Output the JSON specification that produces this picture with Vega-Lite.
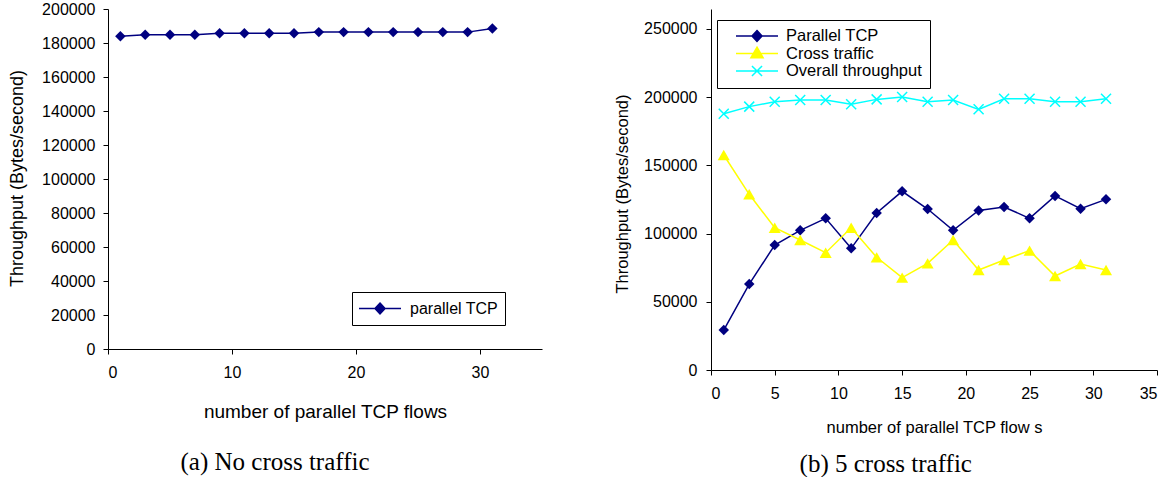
{
  "$schema": "https://vega.github.io/schema/vega-lite/v6.json",
  "padding": {"left": 8, "top": 1, "right": 0, "bottom": 0},
  "background": "white",
  "datasets": {
    "a": [
      {"n": 1, "throughput": 184000, "series": "parallel TCP"},
      {"n": 3, "throughput": 184800, "series": "parallel TCP"},
      {"n": 5, "throughput": 184800, "series": "parallel TCP"},
      {"n": 7, "throughput": 184800, "series": "parallel TCP"},
      {"n": 9, "throughput": 185700, "series": "parallel TCP"},
      {"n": 11, "throughput": 185700, "series": "parallel TCP"},
      {"n": 13, "throughput": 185700, "series": "parallel TCP"},
      {"n": 15, "throughput": 185700, "series": "parallel TCP"},
      {"n": 17, "throughput": 186400, "series": "parallel TCP"},
      {"n": 19, "throughput": 186400, "series": "parallel TCP"},
      {"n": 21, "throughput": 186400, "series": "parallel TCP"},
      {"n": 23, "throughput": 186400, "series": "parallel TCP"},
      {"n": 25, "throughput": 186400, "series": "parallel TCP"},
      {"n": 27, "throughput": 186400, "series": "parallel TCP"},
      {"n": 29, "throughput": 186400, "series": "parallel TCP"},
      {"n": 31, "throughput": 188500, "series": "parallel TCP"}
    ],
    "b": [
      {"n": 1, "throughput": 29300, "series": "Parallel TCP"},
      {"n": 3, "throughput": 63000, "series": "Parallel TCP"},
      {"n": 5, "throughput": 91600, "series": "Parallel TCP"},
      {"n": 7, "throughput": 102400, "series": "Parallel TCP"},
      {"n": 9, "throughput": 111200, "series": "Parallel TCP"},
      {"n": 11, "throughput": 89200, "series": "Parallel TCP"},
      {"n": 13, "throughput": 115100, "series": "Parallel TCP"},
      {"n": 15, "throughput": 131000, "series": "Parallel TCP"},
      {"n": 17, "throughput": 118000, "series": "Parallel TCP"},
      {"n": 19, "throughput": 102400, "series": "Parallel TCP"},
      {"n": 21, "throughput": 117000, "series": "Parallel TCP"},
      {"n": 23, "throughput": 119500, "series": "Parallel TCP"},
      {"n": 25, "throughput": 111200, "series": "Parallel TCP"},
      {"n": 27, "throughput": 127600, "series": "Parallel TCP"},
      {"n": 29, "throughput": 118300, "series": "Parallel TCP"},
      {"n": 31, "throughput": 125100, "series": "Parallel TCP"},
      {"n": 1, "throughput": 157600, "series": "Cross traffic"},
      {"n": 3, "throughput": 128800, "series": "Cross traffic"},
      {"n": 5, "throughput": 104300, "series": "Cross traffic"},
      {"n": 7, "throughput": 95300, "series": "Cross traffic"},
      {"n": 9, "throughput": 86000, "series": "Cross traffic"},
      {"n": 11, "throughput": 104300, "series": "Cross traffic"},
      {"n": 13, "throughput": 82600, "series": "Cross traffic"},
      {"n": 15, "throughput": 67700, "series": "Cross traffic"},
      {"n": 17, "throughput": 78200, "series": "Cross traffic"},
      {"n": 19, "throughput": 95300, "series": "Cross traffic"},
      {"n": 21, "throughput": 73300, "series": "Cross traffic"},
      {"n": 23, "throughput": 80600, "series": "Cross traffic"},
      {"n": 25, "throughput": 87500, "series": "Cross traffic"},
      {"n": 27, "throughput": 68900, "series": "Cross traffic"},
      {"n": 29, "throughput": 77700, "series": "Cross traffic"},
      {"n": 31, "throughput": 73300, "series": "Cross traffic"},
      {"n": 1, "throughput": 187900, "series": "Overall throughput"},
      {"n": 3, "throughput": 193100, "series": "Overall throughput"},
      {"n": 5, "throughput": 196700, "series": "Overall throughput"},
      {"n": 7, "throughput": 197900, "series": "Overall throughput"},
      {"n": 9, "throughput": 197900, "series": "Overall throughput"},
      {"n": 11, "throughput": 194800, "series": "Overall throughput"},
      {"n": 13, "throughput": 198400, "series": "Overall throughput"},
      {"n": 15, "throughput": 200100, "series": "Overall throughput"},
      {"n": 17, "throughput": 196700, "series": "Overall throughput"},
      {"n": 19, "throughput": 197900, "series": "Overall throughput"},
      {"n": 21, "throughput": 191100, "series": "Overall throughput"},
      {"n": 23, "throughput": 198900, "series": "Overall throughput"},
      {"n": 25, "throughput": 198900, "series": "Overall throughput"},
      {"n": 27, "throughput": 196700, "series": "Overall throughput"},
      {"n": 29, "throughput": 196700, "series": "Overall throughput"},
      {"n": 31, "throughput": 198900, "series": "Overall throughput"}
    ]
  },
  "spacing": 169,
  "bounds": "flush",
  "resolve": {
    "scale": {"color": "independent", "x": "independent", "y": "independent"},
    "legend": {"color": "independent"}
  },
  "hconcat": [
    {
      "width": 434,
      "height": 340,
      "data": {"name": "a"},
      "title": {"text": "(a) No cross traffic", "offset": 29},
      "encoding": {
        "x": {
          "field": "n", "type": "quantitative",
          "scale": {"domain": [0, 35], "nice": false, "zero": true},
          "axis": {
            "values": [0, 10, 20, 30], "labelPadding": 10,
            "title": "number of parallel TCP flows", "titleFontSize": 19,
            "titleY": 62, "titleBaseline": "middle"
          }
        },
        "y": {
          "field": "throughput", "type": "quantitative",
          "scale": {"domain": [0, 200000], "nice": false},
          "axis": {
            "values": [0, 20000, 40000, 60000, 80000, 100000, 120000, 140000, 160000, 180000, 200000],
            "format": "d", "labelPadding": 8,
            "title": "Throughput (Bytes/second)", "titleFontSize": 18,
            "titleX": -91, "titleY": 169, "titleBaseline": "middle", "titleAlign": "center"
          }
        }
      },
      "layer": [
        {
          "data": {"values": [{}]},
          "mark": {"type": "rule", "color": "#808080", "strokeWidth": 1},
          "encoding": {"x": {"datum": 0}, "x2": {"datum": 35}, "y": {"datum": 200000}}
        },
        {
          "data": {"values": [{}]},
          "mark": {"type": "rule", "color": "#808080", "strokeWidth": 1},
          "encoding": {"x": {"datum": 35}, "y": {"datum": 0}, "y2": {"datum": 200000}}
        },
        {
          "mark": {"type": "line", "strokeWidth": 1.5},
          "encoding": {
            "color": {
              "field": "series", "type": "nominal",
              "scale": {"domain": ["parallel TCP"], "range": ["#000080"]},
              "legend": {
                "orient": "none", "legendX": 244, "legendY": 283, "title": null,
                "strokeColor": "black", "fillColor": "white", "padding": 6,
                "symbolSize": 1764, "clipHeight": 21, "labelOffset": 8,
                "labelFontSize": 16, "labelFont": "Liberation Sans", "labelColor": "black",
                "encode": {
                  "symbols": {
                    "update": {
                      "shape": {"value": "M-1,0H1M0,-0.26L0.24,0L0,0.26L-0.24,0Z"},
                      "fill": {"value": "#000080"},
                      "stroke": {"value": "#000080"},
                      "strokeWidth": {"value": 1.5},
                      "opacity": {"value": 1}
                    }
                  }
                }
              }
            }
          }
        },
        {
          "mark": {"type": "point", "shape": "diamond", "filled": true, "size": 110, "color": "#000080", "opacity": 1}
        }
      ]
    },
    {
      "width": 446,
      "height": 361,
      "data": {"name": "b"},
      "title": {"text": "(b) 5 cross traffic", "offset": 16},
      "encoding": {
        "x": {
          "field": "n", "type": "quantitative",
          "scale": {"domain": [0, 35], "nice": false, "zero": true},
          "axis": {
            "values": [0, 5, 10, 15, 20, 25, 30, 35], "labelPadding": 10,
            "title": "number of parallel TCP flow s", "titleFontSize": 16.5,
            "titleY": 57, "titleBaseline": "middle"
          }
        },
        "y": {
          "field": "throughput", "type": "quantitative",
          "scale": {"domain": [0, 264660], "nice": false},
          "axis": {
            "values": [0, 50000, 100000, 150000, 200000, 250000],
            "format": "d", "labelPadding": 9,
            "title": "Throughput (Bytes/second)", "titleFontSize": 16.5,
            "titleX": -89, "titleY": 184.5, "titleBaseline": "middle", "titleAlign": "center"
          }
        }
      },
      "layer": [
        {
          "data": {"values": [{}]},
          "mark": {"type": "rule", "color": "#808080", "strokeWidth": 1},
          "encoding": {"x": {"datum": 0}, "x2": {"datum": 35}, "y": {"datum": 260000}}
        },
        {
          "data": {"values": [{}]},
          "mark": {"type": "rule", "color": "#808080", "strokeWidth": 1},
          "encoding": {"x": {"datum": 35}, "y": {"datum": 0}, "y2": {"datum": 260000}}
        },
        {
          "mark": {"type": "line", "strokeWidth": 1.5},
          "encoding": {
            "color": {
              "field": "series", "type": "nominal",
              "scale": {"domain": ["Parallel TCP", "Cross traffic", "Overall throughput"], "range": ["#000080", "#FFFF00", "#00FFFF"]},
              "legend": {
                "orient": "none", "legendX": 6, "legendY": 11, "title": null,
                "strokeColor": "black", "fillColor": "white", "padding": 8,
                "symbolSize": 1764, "clipHeight": 16, "rowPadding": 0.5,
                "symbolOffset": 10, "labelOffset": 7,
                "labelFontSize": 16.5, "labelFont": "Liberation Sans", "labelColor": "black",
                "encode": {
                  "symbols": {
                    "update": {
                      "shape": {"signal": "datum.value === 'Parallel TCP' ? 'M-1,0H1M0,-0.26L0.24,0L0,0.26L-0.24,0Z' : datum.value === 'Cross traffic' ? 'M-1,0H1M0,-0.3L0.29,0.2L-0.29,0.2Z' : 'M-1,0H1M-0.24,-0.24L0.24,0.24M-0.24,0.24L0.24,-0.24'"},
                      "fill": {"signal": "datum.value === 'Parallel TCP' ? '#000080' : datum.value === 'Cross traffic' ? '#FFFF00' : '#00FFFF'"},
                      "stroke": {"signal": "datum.value === 'Parallel TCP' ? '#000080' : datum.value === 'Cross traffic' ? '#FFFF00' : '#00FFFF'"},
                      "strokeWidth": {"value": 1.5},
                      "opacity": {"value": 1}
                    }
                  }
                }
              }
            }
          }
        },
        {
          "transform": [{"filter": "datum.series === 'Parallel TCP'"}],
          "mark": {"type": "point", "shape": "diamond", "filled": true, "size": 110, "color": "#000080", "opacity": 1}
        },
        {
          "transform": [{"filter": "datum.series === 'Cross traffic'"}],
          "mark": {"type": "point", "shape": "triangle-up", "filled": true, "size": 144, "color": "#FFFF00", "opacity": 1}
        },
        {
          "transform": [{"filter": "datum.series === 'Overall throughput'"}],
          "mark": {"type": "point", "shape": "M-1,-1L1,1M-1,1L1,-1", "filled": false, "size": 100, "color": "#00FFFF", "strokeWidth": 1.5, "opacity": 1}
        }
      ]
    }
  ],
  "config": {
    "view": {"stroke": null},
    "font": "Liberation Sans",
    "axis": {
      "domainColor": "black", "tickColor": "black", "tickSize": 5, "domainWidth": 1, "tickWidth": 1,
      "labelColor": "black", "titleColor": "black", "labelFont": "Liberation Sans", "titleFont": "Liberation Sans",
      "labelFontSize": 16, "titleFontWeight": "normal", "grid": false
    },
    "title": {
      "font": "Liberation Serif", "fontSize": 25, "fontWeight": "normal", "color": "black",
      "orient": "bottom", "anchor": "middle", "frame": "bounds"
    }
  }
}
